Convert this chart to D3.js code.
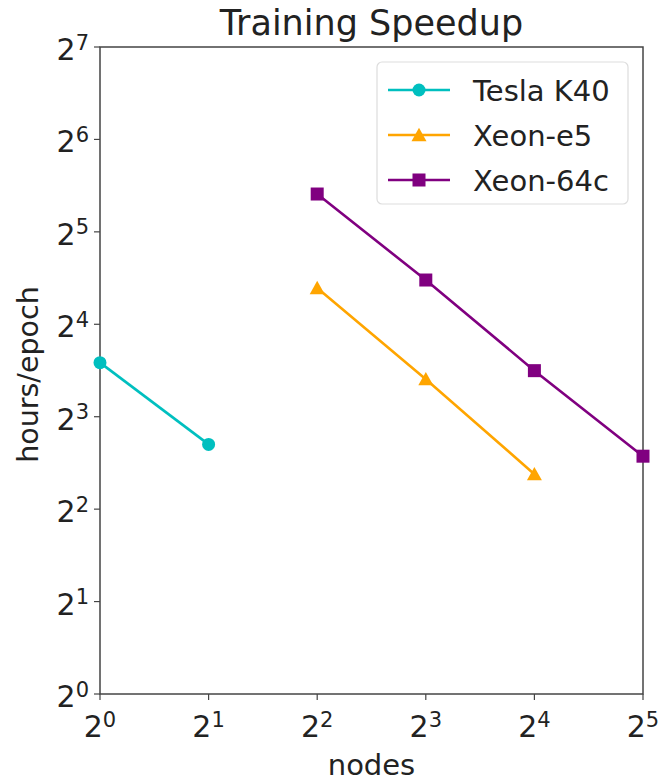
<!DOCTYPE html>
<html>
<head>
<meta charset="utf-8">
<script src="https://cdn.jsdelivr.net/npm/d3@7"></script>
<style>
  body { margin: 0; background: #fff; }
  svg { font-family: "DejaVu Sans", sans-serif; }
</style>
</head>
<body>
<svg id="chart" width="659" height="782"></svg>
<script>
// --- data ---
const nodesTesla = [1, 2];
const hoursTesla = [12.0, 6.5];
const nodesE5 = [4, 8, 16];
const hoursE5 = [21.0, 10.6, 5.2];
const nodes64c = [4, 8, 16, 32];
const hours64c = [42.5, 22.3, 11.3, 5.95];
const xTickExps = [0, 1, 2, 3, 4, 5];
const yTickExps = [0, 1, 2, 3, 4, 5, 6, 7];

const series = [
  { name: "Tesla K40", x: nodesTesla, y: hoursTesla, color: "#00bfbf", marker: "circle" },
  { name: "Xeon-e5", x: nodesE5, y: hoursE5, color: "#ffa500", marker: "triangle" },
  { name: "Xeon-64c", x: nodes64c, y: hours64c, color: "#800080", marker: "square" }
];

const svg = d3.select("#chart");
const margin = { left: 100, right: 16, top: 47, bottom: 88 };
const width = 659, height = 782;
const axisColor = "#444";

const x = d3.scaleLog().base(2).domain([1, 32]).range([margin.left, width - margin.right]);
const y = d3.scaleLog().base(2).domain([1, 128]).range([height - margin.bottom, margin.top]);

// superscript labels like 2^n
function powLabel(sel, exp) {
  sel.text(null);
  sel.append("tspan").text("2");
  sel.append("tspan").attr("dy", "-0.5em").attr("font-size", "0.7em").text(exp);
}

// x axis
const xAxis = svg.append("g").attr("transform", `translate(0,${y.range()[0]})`);
xTickExps.forEach(e => {
  const px = x(Math.pow(2, e));
  xAxis.append("line").attr("x1", px).attr("x2", px).attr("y1", 0).attr("y2", 6)
    .attr("stroke", axisColor).attr("stroke-width", 1.2);
  xAxis.append("text").attr("x", px).attr("y", 43).attr("text-anchor", "middle")
    .attr("font-size", 30).attr("fill", "#222")
    .call(s => powLabel(s, e));
});

// y axis
const yAxis = svg.append("g").attr("transform", `translate(${x.range()[0]},0)`);
yTickExps.forEach(e => {
  const py = y(Math.pow(2, e));
  yAxis.append("line").attr("x1", -6).attr("x2", 0).attr("y1", py).attr("y2", py)
    .attr("stroke", axisColor).attr("stroke-width", 1.2);
  yAxis.append("text").attr("x", -11).attr("y", py + 13).attr("text-anchor", "end")
    .attr("font-size", 30).attr("fill", "#222")
    .call(s => powLabel(s, e));
});

// frame
svg.append("rect")
  .attr("x", x.range()[0]).attr("y", y.range()[1])
  .attr("width", x.range()[1] - x.range()[0]).attr("height", y.range()[0] - y.range()[1])
  .attr("fill", "none").attr("stroke", axisColor).attr("stroke-width", 1.5);

// title + axis labels
svg.append("text").attr("x", (x.range()[0] + x.range()[1]) / 2).attr("y", 35)
  .attr("text-anchor", "middle").attr("font-size", 35).attr("fill", "#222").text("Training Speedup");
svg.append("text").attr("x", (x.range()[0] + x.range()[1]) / 2).attr("y", 775)
  .attr("text-anchor", "middle").attr("font-size", 29).attr("fill", "#222").text("nodes");
svg.append("text").attr("transform", `translate(38,${(y.range()[0] + y.range()[1]) / 2 + 4}) rotate(-90)`)
  .attr("text-anchor", "middle").attr("font-size", 28.5).attr("fill", "#222").text("hours/epoch");

function drawMarker(g, type, cx, cy, color, size) {
  if (type === "circle") {
    g.append("circle").attr("cx", cx).attr("cy", cy).attr("r", size / 2).attr("fill", color);
  } else if (type === "square") {
    g.append("rect").attr("x", cx - size / 2).attr("y", cy - size / 2)
      .attr("width", size).attr("height", size).attr("fill", color);
  } else {
    const h = size * 0.95;
    g.append("path")
      .attr("d", `M${cx},${cy - h / 2 - 1}L${cx + size / 2 + 1},${cy + h / 2}L${cx - size / 2 - 1},${cy + h / 2}Z`)
      .attr("fill", color);
  }
}

const line = d3.line().x(d => x(d[0])).y(d => y(d[1]));
const plot = svg.append("g");
series.forEach(s => {
  const pts = s.x.map((v, i) => [v, s.y[i]]);
  plot.append("path").datum(pts).attr("d", line)
    .attr("fill", "none").attr("stroke", s.color).attr("stroke-width", 2.6);
  pts.forEach(p => drawMarker(plot, s.marker, x(p[0]), y(p[1]), s.color, 13));
});

// legend
const lg = svg.append("g").attr("transform", "translate(377,62)");
lg.append("rect").attr("width", 251).attr("height", 142).attr("rx", 5)
  .attr("fill", "#fff").attr("stroke", "#ddd").attr("stroke-width", 1.2);
series.forEach((s, i) => {
  const cy = 28 + i * 45;
  lg.append("line").attr("x1", 11).attr("x2", 73).attr("y1", cy).attr("y2", cy)
    .attr("stroke", s.color).attr("stroke-width", 2.6);
  drawMarker(lg, s.marker, 42, cy, s.color, 13);
  lg.append("text").attr("x", 96).attr("y", cy + 11).attr("font-size", 29)
    .attr("fill", "#222").text(s.name);
});
</script>
</body>
</html>
